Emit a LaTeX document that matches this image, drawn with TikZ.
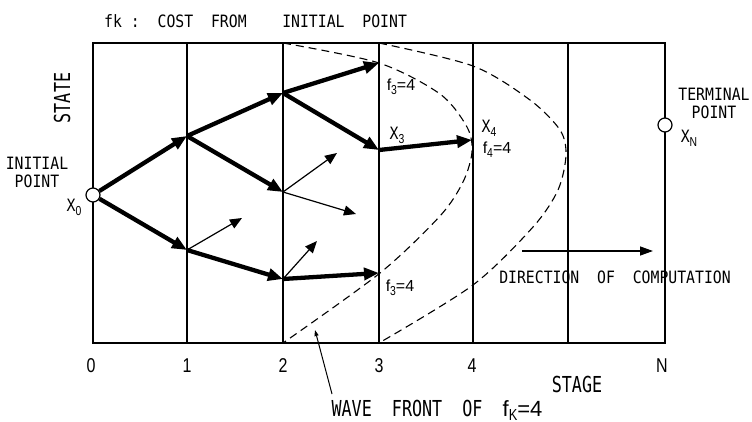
\documentclass[tikz,border=0pt]{standalone}
\usepackage{fontspec}
\setmainfont{Liberation Sans}
\newfontfamily\monofont{DejaVu Sans Mono}[FakeStretch=0.87]
\newfontfamily\widefont{DejaVu Sans Mono}[FakeStretch=0.76]
\newfontfamily\numfont{Liberation Sans}[FakeStretch=0.8]
\usetikzlibrary{arrows.meta}
\newcommand\idx[2][13]{\raisebox{-4pt}{\numfont\fontsize{#1}{#1}\selectfont #2}}

\begin{document}
\begin{tikzpicture}[x=1pt, y=-1pt,
    frame/.style={line width=1.2pt},
    heavy/.style={line width=4.3pt, -{Triangle[length=15pt,width=12pt]}},
    light/.style={line width=1.2pt, -{Triangle[length=12pt,width=10pt]}},
    wave/.style={line width=1.1pt, dash pattern=on 8pt off 5pt},
    endpt/.style={circle, draw, fill=white, line width=1.2pt, minimum size=14pt, inner sep=0pt},
    small/.style={font=\monofont\fontsize{17}{17}\selectfont, inner sep=0pt},
    big/.style={font=\widefont\fontsize{22}{22}\selectfont, inner sep=0pt},
    num/.style={font=\numfont\fontsize{20}{20}\selectfont, inner sep=0pt},
    fval/.style={font=\fontsize{16}{16}\selectfont, inner sep=0pt}]

    \useasboundingbox (0,0) rectangle (752,422);

    % Frame and stage lines
    \draw[frame] (93,43) rectangle (665,343);
    \foreach \x in {187,283,379,473,568} {
        \draw[frame] (\x,43) -- (\x,343);
    }

    % Stage numbers
    \foreach \x/\s in {91/0,187/1,283/2,379/3,472/4,662/N} {
        \node[num] (n\s) at (\x,366) {\s};
    }

    % Wave fronts
    \draw[wave] plot[smooth] coordinates {(283,43) (379,63) (440,94) (467,127) (472,152)
        (463,182) (440,216) (380,273) (283,343)};
    \draw[wave] plot[smooth] coordinates {(379,43) (473,66) (530,100) (560,130) (566,155)
        (558,190) (533,227) (473,285) (379,343)};

    % States
    \node[endpt] (x0) at (93,195) {};
    \node[endpt] (xn) at (665,125) {};
    \coordinate (s1u) at (187,136);
    \coordinate (s1l) at (187,250);
    \coordinate (s2u) at (283,93);
    \coordinate (s2m) at (283,192);
    \coordinate (s2l) at (283,279);
    \coordinate (s3u) at (379,63);
    \coordinate (x3) at (379,150);
    \coordinate (s3l) at (379,273);
    \coordinate (x4) at (472,140);

    % Optimal paths
    \draw[heavy] (x0) -- (s1u);
    \draw[heavy] (x0) -- (s1l);
    \draw[heavy] (s1u) -- (s2u);
    \draw[heavy] (s1u) -- (s2m);
    \draw[heavy] (s1l) -- (s2l);
    \draw[heavy] (s2u) -- (s3u);
    \draw[heavy] (s2u) -- (x3);
    \draw[heavy] (s2l) -- (s3l);
    \draw[heavy] (x3) -- (x4);

    % Other transitions
    \coordinate (t1) at (242,218);
    \coordinate (t2) at (337,153);
    \coordinate (t3) at (356,214);
    \coordinate (t4) at (317,241);
    \draw[light] (s1l) -- (t1);
    \draw[light] (s2m) -- (t2);
    \draw[light] (s2m) -- (t3);
    \draw[light] (s2l) -- (t4);

    % Direction of computation
    \coordinate (d1) at (522,251);
    \coordinate (d2) at (653,251);
    \draw[line width=1.3pt, -{Triangle[length=13pt,width=9pt]}] (d1) -- (d2);

    % Pointer to the wave front
    \coordinate (w1) at (332,394);
    \coordinate (w2) at (315,330);
    \draw[line width=1pt, -{Triangle[length=6pt,width=4pt]}] (w1) -- (w2);

    % Labels
    \node[small, anchor=west] (title) at (104,21) {fk~:~~COST~~FROM~~~~INITIAL~~POINT};
    \node[big, rotate=90] (state) at (62,98) {STATE};
    \node[small, align=center] (init) at (37,172) {INITIAL\\[1pt]POINT};
    \node[small] (lx0) at (74,207) {X\idx{0}};
    \node[small, align=center] (term) at (714,103) {TERMINAL\\[1pt]POINT};
    \node[small] (lxn) at (689,138) {X\idx{N}};
    \node[small] (lx3) at (397,135) {X\idx{3}};
    \node[small] (lx4) at (489,128) {X\idx{4}};
    \node[fval] (f3u) at (401,87) {f\idx{3}=4};
    \node[fval] (f4) at (497,150) {f\idx{4}=4};
    \node[fval] (f3l) at (400,288) {f\idx{3}=4};
    \node[small] (dir) at (615,277) {DIRECTION~~OF~~COMPUTATION};
    \node[big] (stage) at (577,384) {STAGE};
    \node[big] (front) at (437,410) {WAVE~~FRONT~~OF~~{\rmfamily f\idx[16]{K}=4}};

\end{tikzpicture}
\end{document}
